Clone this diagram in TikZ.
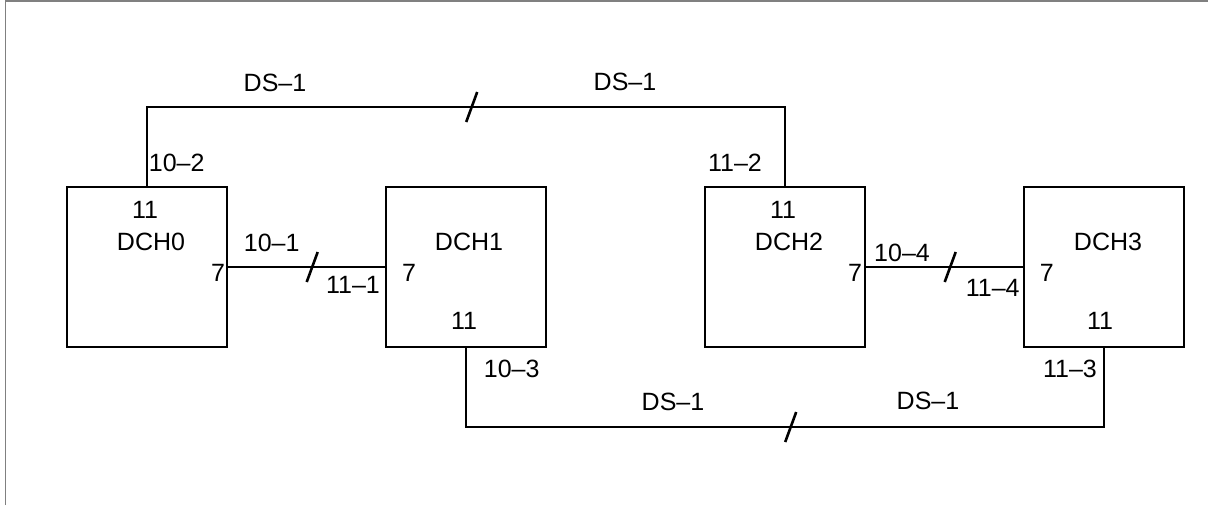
\documentclass[tikz,border=0pt]{standalone}
\usepackage{fontspec}
\setmainfont{Liberation Sans}
\usetikzlibrary{positioning, calc}

\begin{document}
\begin{tikzpicture}[
        x=0.5pt, y=-0.5pt,
        node distance = 78.5pt,
        font=\fontsize{12.5}{15}\selectfont,
        % caja de cada DCH
        dch/.style={draw, line width=1pt, minimum size=80pt, inner sep=0pt},
        link/.style={line width=1pt},
        frame/.style={line width=0.6pt, color=gray},
        % marca de enlace
        slash/.pic={\draw[line width=1.3pt] (2.75pt,7.5pt) -- (-2.75pt,-7.5pt);},
    ]
    \useasboundingbox (0,0) rectangle (1208,505);
    % 1. Marco
    \draw[frame] (5.5,505) -- (5.5,1) -- (1208,1);

    % 2. Las cajas DCH
    \node[dch] (dch0) at (146.7,267) {};
    \node[dch, right=of dch0] (dch1) {};
    \node[dch, right=of dch1] (dch2) {};
    \node[dch, right=of dch2] (dch3) {};

    % Textos dentro de las cajas
    \node (p0top) at (145,210) {11};
    \node (n0) at (151,241.7) {DCH0};
    \node (p0r) at (218,273) {7};
    \node (n1) at (469,241.7) {DCH1};
    \node (p1l) at (409,273) {7};
    \node (p1bot) at (464,320.7) {11};
    \node (p2top) at (783,210) {11};
    \node (n2) at (789,241.7) {DCH2};
    \node (p2r) at (855,273) {7};
    \node (n3) at (1108,241.7) {DCH3};
    \node (p3l) at (1046.7,273) {7};
    \node (p3bot) at (1100,320.7) {11};

    % 3. Enlaces
    \draw[link] (dch0.east) -- (dch1.west);
    \draw[link] (dch2.east) -- (dch3.west);
    \draw[link] (dch0.north) -- ++(0,-79) coordinate (t0) -| (dch2.north);
    \coordinate (t2) at (t0 -| dch2.north);
    \draw[link] (dch1.south) -- ++(0,79) coordinate (b1) -| (dch3.south);
    \coordinate (b3) at (b1 -| dch3.south);

    \pic at ($(dch0.east)!0.5!(dch1.west)+(6,0)$) {slash};
    \pic at ($(dch2.east)!0.5!(dch3.west)+(6,0)$) {slash};
    \pic at ($(t0)!0.5!(t2)+(6,0)$) {slash};
    \pic at ($(b1)!0.5!(b3)+(6,0)$) {slash};

    % Etiquetas de puertos
    \node (l102) at (176.7,162.7) {10--2};
    \node (l112) at (735,163) {11--2};
    \node (l101) at (271.7,242.5) {10--1};
    \node (l111) at (353,285) {11--1};
    \node (l104) at (902,253) {10--4};
    \node (l114) at (992.7,288) {11--4};
    \node (l103) at (511.7,369) {10--3};
    \node (l113) at (1070,369.3) {11--3};
    \node (ds0) at (275,82.7) {DS--1};
    \node (ds2) at (625,81.7) {DS--1};
    \node (ds1) at (673,401.7) {DS--1};
    \node (ds3) at (928,401) {DS--1};
\end{tikzpicture}
\end{document}
